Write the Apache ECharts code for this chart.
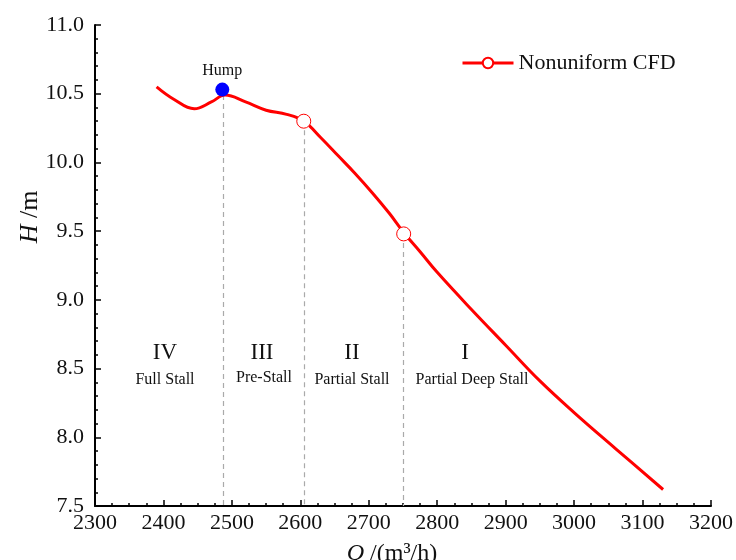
<!DOCTYPE html>
<html>
<head>
<meta charset="utf-8">
<script src="https://cdn.jsdelivr.net/npm/echarts@6/dist/echarts.min.js"></script>
<style>
  html, body { margin: 0; padding: 0; background: #fff; }
  #chart { width: 736px; height: 560px; }
</style>
</head>
<body>
<div id="chart"></div>
<script>
// 流量 Q (m3/h) 与扬程 H (m)
const flowQ = [2390, 2415, 2445, 2470, 2490, 2520, 2550, 2580, 2605, 2630, 2655, 2680, 2705, 2730, 2751, 2775, 2800, 2850, 2900, 2950, 3000, 3060, 3130];
const headH = [10.55, 10.46, 10.39, 10.44, 10.49, 10.44, 10.38, 10.35, 10.30, 10.18, 10.05, 9.92, 9.78, 9.63, 9.49, 9.35, 9.20, 8.93, 8.67, 8.41, 8.18, 7.92, 7.62];

// 驼峰点
const humpPoint = [2486, 10.53];
// 分区点 (空心圆)
const stallPoints = [[2605, 10.30], [2751, 9.48]];
// 竖直虚线位置
const dividerQ = [2488, 2605, 2751];
const dividerTopH = [10.49, 10.30, 9.48];

const xTicks = { min: 2300, max: 3200, interval: 100 };
const yTicks = { min: 7.5, max: 11.0, interval: 0.5 };

// 区域标注: 罗马数字 + 名称
const regionNums = ['IV', 'III', 'II', 'I'];
const regionNames = ['Full Stall', 'Pre-Stall', 'Partial Stall', 'Partial Deep Stall'];

const FONT = '"Liberation Serif", "DejaVu Serif", serif';

const chart = echarts.init(document.getElementById('chart'));

const lineData = flowQ.map((q, i) => [q, headH[i]]);

const dividerLines = dividerQ.map((q, i) => [
  { coord: [q, dividerTopH[i]] },
  { coord: [q, yTicks.min] }
]);

function label(x, y, text, size) {
  return {
    type: 'text',
    x: x,
    y: y,
    style: {
      text: text,
      font: size + 'px ' + FONT,
      fill: '#111',
      textAlign: 'center',
      textVerticalAlign: 'middle'
    }
  };
}

// 标注位置 (像素)
const numPos = [[165, 353], [262, 353], [352, 353], [465, 353]];
const namePos = [[165, 380], [264, 378], [352, 380], [472, 380]];

const regionGraphics = [];
regionNums.forEach((t, i) => {
  regionGraphics.push(label(numPos[i][0], numPos[i][1], t, 23));
  regionGraphics.push(label(namePos[i][0], namePos[i][1], regionNames[i], 16));
});

const option = {
  animation: false,
  grid: {
    left: 95,
    right: 25,
    top: 25,
    bottom: 54,
    outerBoundsMode: 'none'
  },
  legend: {
    data: ['Nonuniform CFD'],
    left: 456,
    top: 47,
    itemWidth: 51,
    itemHeight: 13,
    lineStyle: { width: 3 },
    textStyle: {
      fontFamily: FONT,
      fontSize: 22,
      color: '#111'
    }
  },
  xAxis: {
    type: 'value',
    min: xTicks.min,
    max: xTicks.max,
    interval: xTicks.interval,
    name: '{i|Q} /(m³/h)',
    nameLocation: 'middle',
    nameGap: 36,
    nameTextStyle: {
      fontFamily: FONT,
      fontSize: 24,
      color: '#111',
      padding: [0, 22, 0, 0],
      rich: {
        i: { fontFamily: FONT, fontSize: 24, fontStyle: 'italic', color: '#111' }
      }
    },
    axisLine: { lineStyle: { color: '#000', width: 2 } },
    axisTick: { inside: true, length: 6, lineStyle: { color: '#000', width: 1.5 } },
    minorTick: { show: true, splitNumber: 4, length: 3, lineStyle: { color: '#000', width: 1.5 } },
    axisLabel: {
      fontFamily: FONT,
      fontSize: 22,
      color: '#111',
      margin: 6,
      formatter: v => String(v)
    },
    splitLine: { show: false }
  },
  yAxis: {
    type: 'value',
    min: yTicks.min,
    max: yTicks.max,
    interval: yTicks.interval,
    axisLine: { show: true, lineStyle: { color: '#000', width: 2 } },
    axisTick: { show: true, inside: true, length: 6, lineStyle: { color: '#000', width: 1.5 } },
    minorTick: { show: true, splitNumber: 5, length: 3, lineStyle: { color: '#000', width: 1.5 } },
    axisLabel: {
      fontFamily: FONT,
      fontSize: 22,
      color: '#111',
      margin: 11,
      formatter: v => v.toFixed(1)
    },
    splitLine: { show: false }
  },
  series: [
    {
      name: 'Nonuniform CFD',
      type: 'line',
      data: lineData,
      smooth: 0.4,
      showSymbol: false,
      symbol: 'emptyCircle',
      symbolSize: 12,
      lineStyle: { color: '#ff0000', width: 3 },
      itemStyle: { color: '#ff0000', borderWidth: 1 },
      markLine: {
        silent: true,
        z: 1,
        symbol: ['none', 'none'],
        label: { show: false },
        lineStyle: { color: '#aaa', type: [5, 4], width: 1.2 },
        data: dividerLines
      },
      z: 2
    },
    {
      name: 'stall',
      type: 'scatter',
      data: stallPoints,
      symbol: 'circle',
      symbolSize: 14,
      itemStyle: { color: '#fff', borderColor: '#ff0000', borderWidth: 1, opacity: 1 },
      z: 3
    },
    {
      name: 'hump',
      type: 'scatter',
      data: [humpPoint],
      symbol: 'circle',
      symbolSize: 14,
      itemStyle: { color: '#0000ff', opacity: 1 },
      label: {
        show: true,
        position: 'top',
        distance: 4,
        formatter: 'Hump',
        fontFamily: FONT,
        fontSize: 16,
        color: '#111'
      },
      z: 4
    }
  ],
  graphic: [
    {
      type: 'text',
      x: 30,
      y: 217,
      rotation: Math.PI / 2,
      style: {
        text: '{i|H} /m',
        font: '26px ' + FONT,
        fill: '#111',
        textAlign: 'center',
        textVerticalAlign: 'middle',
        rich: {
          i: { font: 'italic 26px ' + FONT, fill: '#111' }
        }
      }
    }
  ].concat(regionGraphics)
};

chart.setOption(option);
</script>
</body>
</html>
